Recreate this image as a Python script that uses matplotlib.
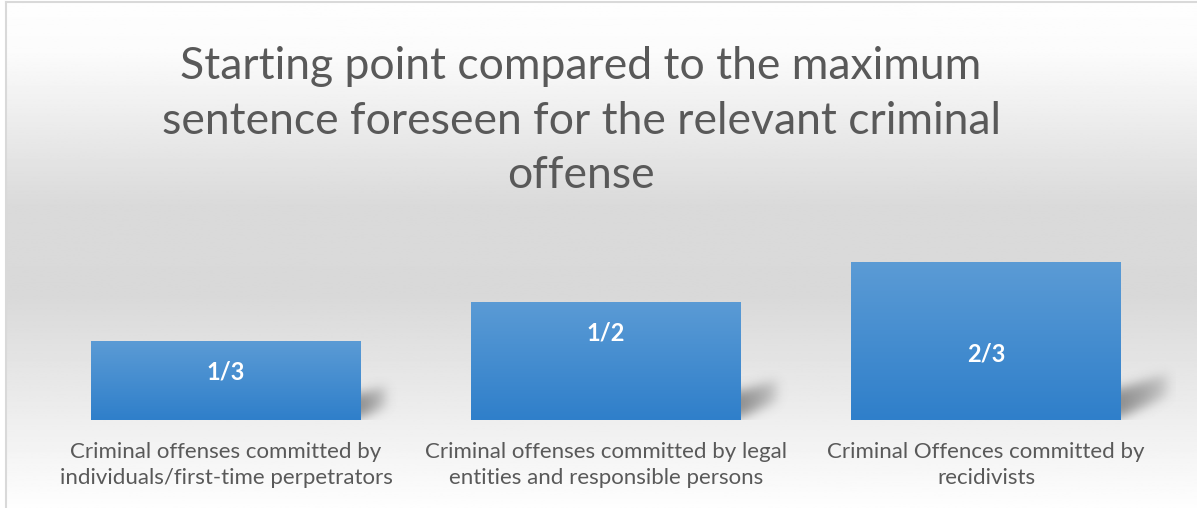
import matplotlib.pyplot as plt
import numpy as np
from matplotlib.colors import LinearSegmentedColormap
from matplotlib.patches import Rectangle

categories = ['Criminal offenses committed by\nindividuals/first-time perpetrators',
              'Criminal offenses committed by legal\nentities and responsible persons',
              'Criminal Offences committed by\nrecidivists']
values = [1 / 3, 1 / 2, 2 / 3]
value_labels = ['1/3', '1/2', '2/3']
# where each value label sits, as a share of its bar's height
label_frac = [0.61, 0.73, 0.42]
title = ('Starting point compared to the maximum\n'
         'sentence foreseen for the relevant criminal\noffense')

W, H = 1197, 508
fig = plt.figure(figsize=(W / 100, H / 100), dpi=100)

# background: white -> light gray -> white, framed by a thin gray border
bg = fig.add_axes([6 / W, 0, 1 - 6 / W, 1 - 2 / H])
bg.set_axis_off()
yy = np.linspace(0, 1, 400)
stops_y = [0.0, 0.10, 0.40, 0.58, 0.80, 1.0]
stops_v = [0.995, 0.985, 0.855, 0.85, 0.925, 0.995]
shade = np.interp(yy, stops_y, stops_v)
bg.imshow(np.repeat(shade[:, None], 2, axis=1), cmap='gray', vmin=0, vmax=1,
          aspect='auto', extent=[0, 1, 1, 0])
bg.set_xlim(0, 1)
bg.set_ylim(1, 0)
fig.add_artist(plt.Line2D([6 / W, 6 / W], [0, 1 - 2 / H], color='#d9d9d9', lw=1.5))
fig.add_artist(plt.Line2D([6 / W, 1], [1 - 2 / H, 1 - 2 / H], color='#d9d9d9', lw=1.5))

ax = fig.add_axes([36 / W, 88 / H, 1140 / W, 320 / H])
ax.set_xlim(-0.5, 2.5)
ax.set_ylim(0, 320 / 237)
ax.set_axis_off()
ax.patch.set_alpha(0)

x = np.arange(len(values))
width = 0.71
bars = ax.bar(x, values, width=width, color='none')

# soft perspective shadows behind the right side of every bar
gx = np.linspace(-0.5, 2.5, 1200)
gy = np.linspace(0, 320 / 237, 320)
GX, GY = np.meshgrid(gx, gy)
mask = np.zeros_like(GX)
for xi, v in zip(x, values):
    right = xi + width / 2
    length = 0.01 + 0.18 * v
    t = (GX - right) / length
    tc = np.clip(t, 0, 1)
    lo = 0.01 + 0.14 * v * tc
    hi = 0.09 + 0.06 * v + 0.10 * v * tc
    inside = (GX > right - 0.6 * width) & (t <= 1) & (GY >= lo) & (GY <= hi)
    fade = np.clip(1 - t, 0, 1) ** 0.5
    mask = np.maximum(mask, inside * np.where(t > 0, fade, 1.0))
k = np.exp(-0.5 * (np.arange(-18, 19) / 5.5) ** 2)
k /= k.sum()
mask = np.apply_along_axis(lambda r: np.convolve(r, k, mode='same'), 1, mask)
mask = np.apply_along_axis(lambda c: np.convolve(c, k, mode='same'), 0, mask)
shadow = np.zeros(mask.shape + (4,))
shadow[..., :3] = 0.40
shadow[..., 3] = 0.7 * mask
ax.imshow(shadow, extent=[gx[0], gx[-1], gy[0], gy[-1]], origin='lower',
          aspect='auto', zorder=1, interpolation='bilinear')

# bars filled with a vertical blue gradient
blue = LinearSegmentedColormap.from_list('bar_blue', ['#2f7fca', '#5b9bd5'])
grad = np.linspace(0, 1, 256)[:, None]
for bar in bars:
    x0, w, h = bar.get_x(), bar.get_width(), bar.get_height()
    im = ax.imshow(grad, cmap=blue, origin='lower', aspect='auto',
                   extent=[x0, x0 + w, 0, h], zorder=2)
    im.set_clip_path(Rectangle((x0, 0), w, h, transform=ax.transData))
ax.set_xlim(-0.5, 2.5)
ax.set_ylim(0, 320 / 237)

for xi, v, lab, f in zip(x, values, value_labels, label_frac):
    ax.text(xi, v * f, lab, ha='center', va='center', color='white',
            fontsize=17, fontweight='bold', family='Lato', zorder=3)

for xi, cat in zip(x, categories):
    ax.text(xi, -0.092, cat, ha='center', va='top', color='#595959',
            fontsize=16, family='Lato', linespacing=1.38, zorder=3)

fig.text(581 / W, 1 - 121 / H, title, ha='center', va='center', color='#595959',
         fontsize=32, family='Lato', linespacing=1.42)

fig.savefig('out.png', dpi=100)
